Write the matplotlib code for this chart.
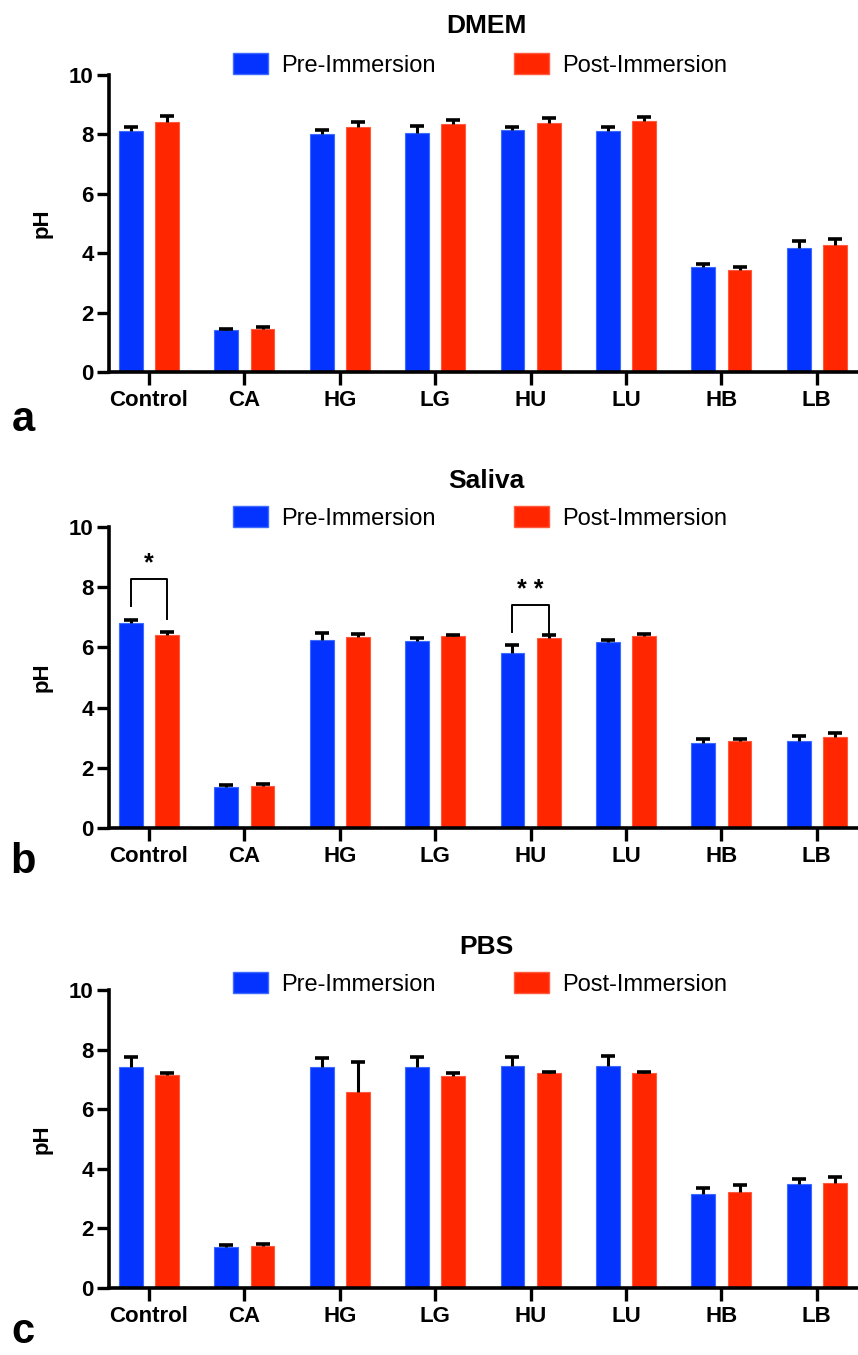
import numpy as np
import matplotlib
matplotlib.use("Agg")
import matplotlib.pyplot as plt
from matplotlib.patches import Patch

# =========================================================
# DATA
# =========================================================
groups = ["Control", "CA", "HG", "LG", "HU", "LU", "HB", "LB"]

dmem_pre = [8.11, 1.41, 8.01, 8.05, 8.15, 8.11, 3.53, 4.17]
dmem_pre_err = [0.14, 0.04, 0.14, 0.23, 0.10, 0.14, 0.11, 0.24]
dmem_post = [8.42, 1.45, 8.25, 8.35, 8.38, 8.45, 3.43, 4.28]
dmem_post_err = [0.20, 0.05, 0.17, 0.15, 0.17, 0.13, 0.11, 0.19]

saliva_pre = [6.80, 1.37, 6.23, 6.20, 5.80, 6.17, 2.83, 2.90]
saliva_pre_err = [0.10, 0.05, 0.24, 0.10, 0.27, 0.08, 0.14, 0.15]
saliva_post = [6.40, 1.40, 6.33, 6.37, 6.30, 6.37, 2.90, 3.03]
saliva_post_err = [0.10, 0.07, 0.10, 0.04, 0.10, 0.08, 0.07, 0.14]

pbs_pre = [7.42, 1.38, 7.42, 7.42, 7.46, 7.46, 3.15, 3.49]
pbs_pre_err = [0.34, 0.05, 0.31, 0.34, 0.30, 0.34, 0.20, 0.17]
pbs_post = [7.15, 1.42, 6.57, 7.13, 7.20, 7.20, 3.22, 3.52]
pbs_post_err = [0.05, 0.07, 1.01, 0.07, 0.06, 0.05, 0.22, 0.20]

panels = [
    ("DMEM", "a", dmem_pre, dmem_pre_err, dmem_post, dmem_post_err),
    ("Saliva", "b", saliva_pre, saliva_pre_err, saliva_post, saliva_post_err),
    ("PBS", "c", pbs_pre, pbs_pre_err, pbs_post, pbs_post_err),
]

# significance brackets on Saliva: (group index, bracket top, left leg end, right leg end, label)
saliva_sig = [(0, 8.27, 7.37, 6.93, "*"), (4, 7.40, 6.50, 6.48, "* *")]

# =========================================================
# STYLE / LAYOUT (pixels)
# =========================================================
W, H = 858, 1355
BLUE = "#0433FF"
RED = "#FF2600"
FONT = ["Liberation Sans", "DejaVu Sans"]

# (axes top, axes bottom, title y, legend y, letter y)
layout = [
    (75, 372, 26, 65, 420),
    (527, 828, 481, 518, 862),
    (990, 1288, 947, 984, 1332),
]
AX_LEFT = 109
X0 = 149          # pixel of first group
STEP = 95.4       # pixels per group
BAR_W = 0.25
OFF = 0.19


def top_errorbar(ax, xs, means, errs):
    # error bar drawn upward only, cap on top
    _, caps, _ = ax.errorbar(xs, means, yerr=[np.zeros(len(means)), errs], fmt="none",
                             ecolor="black", elinewidth=2.2, capsize=5, capthick=2.6,
                             zorder=3)
    caps[0].set_visible(False)


fig = plt.figure(figsize=(W / 100, H / 100), dpi=100)

x = np.arange(len(groups))

for (title, letter, pre, pre_e, post, post_e), (top, bot, ty, ly, lety) in zip(panels, layout):
    ax = fig.add_axes([AX_LEFT / W, 1 - bot / H, (W - AX_LEFT) / W, (bot - top) / H])

    ax.bar(x - OFF, pre, BAR_W, color=BLUE, edgecolor="#3d6bff", linewidth=0.8, zorder=2)
    ax.bar(x + OFF, post, BAR_W, color=RED, edgecolor="#ff5a3d", linewidth=0.8, zorder=2)
    top_errorbar(ax, x - OFF, pre, pre_e)
    top_errorbar(ax, x + OFF, post, post_e)

    ax.set_ylim(0, 10)
    ax.set_xlim((AX_LEFT - X0) / STEP, (W - X0) / STEP)
    ax.set_yticks([0, 2, 4, 6, 8, 10])
    ax.set_xticks(x)
    ax.set_xticklabels(groups)

    for s in ["top", "right"]:
        ax.spines[s].set_visible(False)
    for s in ["left", "bottom"]:
        ax.spines[s].set_linewidth(2.6)
    ax.spines["left"].set_bounds(0, 10)
    ax.tick_params(axis="both", width=2.4, length=9, direction="out")
    ax.tick_params(axis="x", pad=4)
    ax.tick_params(axis="y", pad=2)
    for lab in ax.get_xticklabels() + ax.get_yticklabels():
        lab.set_fontfamily(FONT)
        lab.set_fontweight("bold")
        lab.set_fontsize(16)

    ax.set_ylabel("pH", fontsize=16, fontweight="bold", family=FONT, labelpad=12)

    if title == "Saliva":
        for gi, ytop, yl, yr, lab in saliva_sig:
            xl, xr = gi - OFF, gi + OFF
            ax.plot([xl, xl, xr, xr], [yl, ytop, ytop, yr], color="black", lw=1.4, zorder=4)
            ax.text(gi, ytop + 0.12, lab, ha="center", va="bottom",
                    fontsize=18, fontweight="bold", family=FONT)

    # title and legend in figure coordinates
    fig.text(486 / W, 1 - ty / H, title, ha="center", va="center",
             fontsize=19, fontweight="bold", family=FONT)
    handles = [Patch(facecolor=BLUE, edgecolor="#3d6bff"), Patch(facecolor=RED, edgecolor="#ff5a3d")]
    fig.legend(handles, ["Pre-Immersion", "Post-Immersion"], loc="center",
               bbox_to_anchor=(480 / W, 1 - ly / H), ncol=2, frameon=False,
               prop={"family": FONT, "size": 17}, handlelength=1.5,
               handleheight=0.95, handletextpad=0.55, columnspacing=3.3,
               borderpad=0, borderaxespad=0)

    fig.text(23 / W, 1 - lety / H, letter, ha="center", va="center",
             fontsize=30, fontweight="bold", family=FONT)

fig.savefig("out.png", dpi=100)
